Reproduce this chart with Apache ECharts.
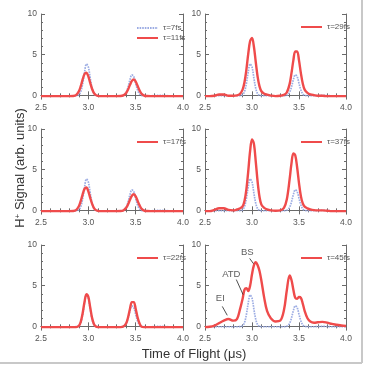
<!DOCTYPE html>
<html><head><meta charset="utf-8">
<script src="https://cdn.jsdelivr.net/npm/echarts@6/dist/echarts.min.js"></script>
<style>html,body{margin:0;padding:0;background:#fff}#c{width:366px;height:369px}</style>
</head><body><div id="c"></div>
<script>
// ---- data ----
const tof = [2.50,2.55,2.60,2.65,2.70,2.75,2.80,2.84,2.87,2.90,2.92,2.94,2.96,2.98,3.00,3.02,3.04,3.06,3.08,3.10,3.13,3.16,3.20,3.25,3.30,3.34,3.37,3.40,3.42,3.44,3.46,3.48,3.50,3.52,3.54,3.56,3.59,3.62,3.66,3.70,3.75,3.80,3.85,3.90,3.95,4.00];
const ref7 = [-0.05,-0.05,-0.05,-0.05,-0.05,-0.05,-0.05,-0.05,-0.04,0.07,0.45,1.42,2.86,3.85,3.49,2.12,0.85,0.2,0.0,-0.04,-0.05,-0.05,-0.05,-0.05,-0.05,-0.05,0.0,0.37,1.03,1.93,2.52,2.31,1.48,0.65,0.18,0.0,-0.04,-0.05,-0.05,-0.03,0.0,-0.03,-0.05,-0.05,-0.05,-0.05];
const red11 = [-0.1,-0.1,-0.1,-0.1,-0.1,-0.1,-0.1,-0.08,0.03,0.49,1.13,1.95,2.62,2.78,2.33,1.53,0.78,0.27,0.03,-0.07,-0.1,-0.1,-0.1,-0.1,-0.1,-0.09,-0.01,0.3,0.73,1.29,1.78,1.95,1.7,1.17,0.63,0.23,-0.03,-0.09,-0.1,-0.1,-0.1,-0.1,-0.1,-0.1,-0.1,-0.1];
const red17 = [-0.1,-0.1,-0.1,-0.1,-0.1,-0.1,-0.1,-0.08,0.03,0.5,1.15,1.97,2.64,2.8,2.34,1.54,0.79,0.28,0.03,-0.07,-0.1,-0.1,-0.1,-0.1,-0.1,-0.09,-0.01,0.31,0.74,1.3,1.8,1.97,1.71,1.18,0.64,0.23,-0.03,-0.09,-0.1,-0.1,-0.1,-0.1,-0.1,-0.1,-0.1,-0.1];
const red22 = [-0.1,-0.1,-0.1,-0.1,-0.1,-0.1,-0.1,-0.1,-0.09,0.08,0.56,1.61,3.03,3.95,3.62,2.31,1.01,0.26,-0.02,-0.09,-0.1,-0.1,-0.1,-0.1,-0.1,-0.1,-0.03,0.38,1.12,2.16,2.98,2.98,2.16,1.12,0.38,-0.03,-0.1,-0.1,-0.1,-0.1,-0.1,-0.1,-0.1,-0.1,-0.1,-0.1];
const red29 = [-0.1,-0.1,-0.05,0.1,0.1,-0.05,-0.05,0.0,0.15,0.7,1.6,3.13,5.1,6.68,7.05,6.0,4.1,2.27,1.1,0.5,0.2,0.08,-0.03,-0.1,-0.05,0.05,0.35,1.38,2.73,4.3,5.39,5.39,4.3,2.73,1.45,0.7,0.3,0.12,0.02,-0.05,-0.05,-0.1,-0.1,-0.1,-0.1,-0.1];
const red37 = [-0.1,-0.1,0.05,0.25,0.25,0.05,0.0,0.1,0.22,0.5,1.15,2.55,4.8,7.3,8.73,8.2,6.0,3.5,1.65,0.7,0.3,0.12,0.0,-0.05,0.0,0.3,1.32,3.8,5.77,7.0,6.77,5.3,3.35,1.75,0.85,0.45,0.25,0.12,0.03,0.0,0.0,-0.05,-0.1,-0.1,-0.1,-0.1];
const red45 = [-0.1,-0.05,0.1,0.4,0.7,0.9,0.7,0.9,2.0,3.4,4.5,4.7,4.35,5.0,6.4,7.5,7.9,7.5,6.8,5.6,3.5,1.9,1.0,0.6,0.7,2.0,4.4,6.25,5.7,4.5,3.5,3.4,3.6,3.5,2.8,1.9,1.0,0.6,0.45,0.5,0.55,0.45,0.3,0.2,0.1,0.05];
const refName = 'τ=7fs';
const panelNames = ['τ=11fs','τ=29fs','τ=17fs','τ=37fs','τ=22fs','τ=45fs'];
const panelReds = [red11, red29, red17, red37, red22, red45];
const xTicks = [2.5, 3.0, 3.5, 4.0];
const yTicks = [0, 5, 10];
const yMinorTicks = [1, 2, 3, 4, 6, 7, 8, 9];
const annoNames = ['BS', 'ATD', 'EI'];
const annoTextAt = [[2.95, 9.05], [2.78, 6.4], [2.663, 3.4]];
const annoArrowFrom = [[2.975, 8.35], [2.833, 5.75], [2.684, 2.45]];
const annoArrowTo = [[3.016, 7.7], [2.905, 3.9], [2.737, 1.35]];

// ---- layout ----
const cols = [[41, 142], [205, 141]];
const rows = [14, 129, 245];
const plotH = 85;
const axisColor = '#6a6a6a';
const labelColor = '#555';
const FONT = '"Liberation Sans", Arial, sans-serif';
const zip = ys => tof.map((x, i) => [x, ys[i]]);

const grid = [], xAxis = [], yAxis = [], series = [], legend = [];
for (let p = 0; p < 6; p++) {
  const c = cols[p % 2], top = rows[Math.floor(p / 2)];
  grid.push({left: c[0], top: top, width: c[1], height: plotH});
  const xBase = {gridIndex: p, type: 'value', min: xTicks[0], max: xTicks[xTicks.length - 1], interval: 0.5,
    axisLine: {show: true, lineStyle: {color: axisColor, width: 1}},
    axisTick: {show: true, inside: true, length: 4, lineStyle: {color: axisColor}},
    minorTick: {show: true, splitNumber: 5, length: 2, lineStyle: {color: axisColor}},
    splitLine: {show: false}, minorSplitLine: {show: false}};
  xAxis.push(Object.assign({}, xBase, {position: 'bottom',
    axisLabel: {show: true, fontSize: 8.5, color: labelColor, margin: 4, fontFamily: FONT, formatter: v => v.toFixed(1)}}));
  xAxis.push(Object.assign({}, xBase, {position: 'top', axisLabel: {show: false}}));
  const yBase = {gridIndex: p, type: 'value', min: -0.45, max: 10, splitLine: {show: false}};
  ['left', 'right'].forEach(pos => {
    yAxis.push(Object.assign({}, yBase, {position: pos,
      axisLine: {show: true, lineStyle: {color: axisColor, width: 1}},
      axisTick: {show: true, inside: true, length: 4, customValues: yTicks, lineStyle: {color: axisColor}},
      axisLabel: pos === 'left' ? {show: true, customValues: yTicks, fontSize: 8.5, color: labelColor, margin: 4, fontFamily: FONT} : {show: false}}));
    yAxis.push(Object.assign({}, yBase, {position: pos,
      axisLine: {show: false},
      axisTick: {show: true, inside: true, length: 2, customValues: yMinorTicks, lineStyle: {color: axisColor}},
      axisLabel: {show: false}}));
  });
  const xi = p * 2, yi = p * 4;
  series.push({type: 'line', name: p === 0 ? refName : refName + ' ref' + p, xAxisIndex: xi, yAxisIndex: yi,
    data: zip(ref7), symbol: 'none', smooth: 0.35, z: 2,
    lineStyle: {color: '#91a3e0', width: 1.7, type: [1.6, 1], opacity: 0.9}, itemStyle: {color: '#91a3e0'}});
  series.push({type: 'line', name: panelNames[p], xAxisIndex: xi, yAxisIndex: yi,
    data: zip(panelReds[p]), symbol: 'none', smooth: 0.35, z: 3,
    lineStyle: {color: '#ef4b4b', width: 2.4}, itemStyle: {color: '#ef4b4b'}});
  legend.push({show: true, orient: 'vertical', left: p % 2 === 0 ? 131 : 295, top: top + (p === 0 ? 4 : 3),
    itemWidth: 21, itemHeight: 6, itemGap: 0, selectedMode: false,
    itemStyle: {opacity: 0, borderWidth: 0},
    textStyle: {fontSize: 8, color: labelColor, fontFamily: FONT, lineHeight: 10},
    data: p === 0 ? [refName, panelNames[0]] : [panelNames[p]]});
}
// annotations in last panel
series.push({type: 'scatter', xAxisIndex: 10, yAxisIndex: 20, symbolSize: 0, silent: true, z: 5,
  data: annoNames.map((n, i) => ({value: annoTextAt[i], name: n})),
  label: {show: true, position: 'inside', formatter: d => d.name, fontSize: 9.5, color: '#333', fontFamily: FONT},
  markLine: {silent: true, symbol: ['none', 'arrow'], symbolSize: [0, 5], animation: false,
    lineStyle: {color: '#222', width: 0.8, type: 'solid'}, label: {show: false},
    data: annoNames.map((n, i) => [{coord: annoArrowFrom[i]}, {coord: annoArrowTo[i]}])}});

const chart = echarts.init(document.getElementById('c'), null, {renderer: 'canvas'});
chart.setOption({
  animation: false, backgroundColor: '#fff',
  grid, xAxis, yAxis, series, legend,
  graphic: [
    {type: 'text', x: 194, y: 354, z: 10,
      style: {text: 'Time of Flight (μs)', align: 'center', verticalAlign: 'middle', fontSize: 13, fill: '#333', fontFamily: FONT}},
    {type: 'text', x: 20, y: 168, rotation: Math.PI / 2, z: 10,
      style: {text: '{a|H}{s|+}{a| Signal (arb. units)}', align: 'center', verticalAlign: 'middle',
        rich: {a: {fontSize: 13, fill: '#333', fontFamily: FONT}, s: {fontSize: 8, fill: '#333', fontFamily: FONT, verticalAlign: 'top'}}}},
    {type: 'line', shape: {x1: 0, y1: 363, x2: 362, y2: 363}, style: {stroke: '#c8c8c8', lineWidth: 2}},
    {type: 'line', shape: {x1: 362, y1: 0, x2: 362, y2: 363}, style: {stroke: '#c8c8c8', lineWidth: 2}}
  ]
});
</script></body></html>
